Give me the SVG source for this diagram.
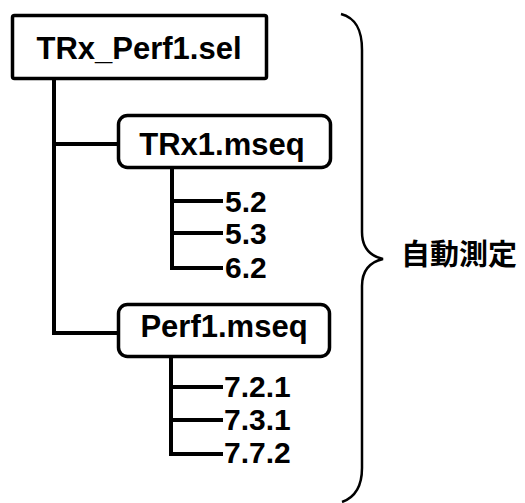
<svg xmlns="http://www.w3.org/2000/svg" width="525" height="503" viewBox="0 0 525 503">
<style>
.box{fill:#fff;stroke:#000;stroke-width:3.5}
.ln{fill:none;stroke:#000;stroke-width:4;stroke-linecap:butt}
.t{font-family:"Liberation Sans",Arial,sans-serif;font-weight:bold;font-size:31px;fill:#000}
.n{font-family:"Liberation Sans",Arial,sans-serif;font-weight:bold;font-size:30px;fill:#000}
.j{font-family:"Liberation Sans","Noto Sans CJK JP",sans-serif;font-weight:bold;font-size:29px;fill:#000}
</style>
<g id="connectors">
<path class="ln" d="M54,80 V333 M52,144 H118 M52,333 H118"/>
<path class="ln" d="M172,168 V270 M170,201 H223 M170,233 H223 M170,268 H223"/>
<path class="ln" d="M171,357 V456 M169,387 H223 M169,420 H223 M169,454 H223"/>
</g>
<g id="root">
<rect class="box" x="12.5" y="15.5" width="254" height="63" rx="2"/>
<text class="t" x="139" y="59" text-anchor="middle">TRx_Perf1.sel</text>
</g>
<g id="trx1">
<rect class="box" x="118.5" y="115.5" width="212" height="52" rx="9"/>
<text class="t" x="222" y="155" text-anchor="middle">TRx1.mseq</text>
</g>
<g id="perf1">
<rect class="box" x="118.5" y="304.5" width="211" height="52" rx="9"/>
<text class="t" x="224" y="337" text-anchor="middle">Perf1.mseq</text>
</g>
<g id="leaf-5-2"><text class="n" x="225" y="212">5.2</text></g>
<g id="leaf-5-3"><text class="n" x="225" y="244">5.3</text></g>
<g id="leaf-6-2"><text class="n" x="225" y="278">6.2</text></g>
<g id="leaf-7-2-1"><text class="n" x="224" y="397">7.2.1</text></g>
<g id="leaf-7-3-1"><text class="n" x="224" y="430">7.3.1</text></g>
<g id="leaf-7-7-2"><text class="n" x="224" y="463">7.7.2</text></g>
<g id="brace">
<path fill="none" stroke="#000" stroke-width="2.5" d="M341,14 C356,18 362,30 362,50 L362,232 C362,248 370,256 383,259 C370,262 362,270 362,286 L362,468 C362,486 356,497 342,502"/>
</g>
<g id="label">
<text class="j" x="401" y="265">自動測定</text>
</g>
</svg>
